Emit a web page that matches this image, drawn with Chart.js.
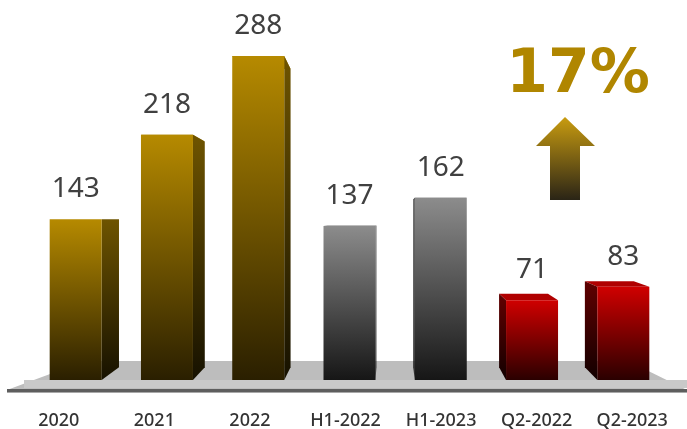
<!DOCTYPE html>
<html>
<head>
<meta charset="utf-8">
<script src="https://cdn.jsdelivr.net/npm/chart.js@4/dist/chart.umd.min.js"></script>
<style>
  html, body { margin: 0; padding: 0; background: #ffffff; overflow: hidden; }
  #wrap { width: 687px; height: 429px; position: absolute; left: 0; top: 0; }
  #chart { display: block; }
</style>
</head>
<body>
<div id="wrap"><canvas id="chart"></canvas></div>
<script>
// Revenue by period
const categories = ['2020', '2021', '2022', 'H1-2022', 'H1-2023', 'Q2-2022', 'Q2-2023'];
const values = [143, 218, 288, 137, 162, 71, 83];
const groups = ['year', 'year', 'year', 'half', 'half', 'quarter', 'quarter'];
const growthLabel = '17%';

// Colour ramps per group: front face (top -> bottom), side face (top -> bottom)
const palette = {
  year:    { front: ['#b68a00', '#2a1f00'], side: ['#6e5400', '#161100'], top: '#a88000' },
  half:    { front: ['#8c8c8c', '#161616'], side: ['#3a3a3a', '#0c0c0c'], top: '#7a7a7a' },
  quarter: { front: ['#d00000', '#2a0000'], side: ['#5c0000', '#120000'], top: '#b00000' }
};

// Perspective for the 3D boxes
const VX = 390, VY = 220;      // vanishing point
const DEPTH_X = 0.06, DEPTH_Y = 0.08;
const SPREAD = 0.955;           // pulls the boxes toward the vanishing point
const HALF_W = 26;

function backX(x) { return VX + (x - VX) * (1 - DEPTH_X); }
function backY(y) { return VY + (y - VY) * (1 - DEPTH_Y); }

function poly(ctx, pts, fill) {
  ctx.beginPath();
  ctx.moveTo(pts[0][0], pts[0][1]);
  for (let i = 1; i < pts.length; i++) ctx.lineTo(pts[i][0], pts[i][1]);
  ctx.closePath();
  ctx.fillStyle = fill;
  ctx.fill();
}

function vGrad(ctx, y0, y1, c0, c1) {
  const g = ctx.createLinearGradient(0, y0, 0, y1);
  g.addColorStop(0, c0);
  g.addColorStop(1, c1);
  return g;
}

const boxes3d = {
  id: 'boxes3d',
  beforeDatasetsDraw(chart) {
    const ctx = chart.ctx;
    const base = chart.scales.y.getPixelForValue(0);
    ctx.save();
    // floor slab
    poly(ctx, [[7, base + 10], [687, base + 10], [628, base - 19], [85, base - 19]], '#bdbdbd');
    ctx.fillStyle = '#c9c9c9';
    ctx.fillRect(24, base, 663, 8);
    ctx.fillStyle = '#5e5e5e';
    ctx.fillRect(7, base + 9, 680, 3);
    ctx.fillStyle = '#a8a8a8';
    ctx.fillRect(7, base + 12, 680, 1);

    const meta = chart.getDatasetMeta(0);
    meta.data.forEach((el, i) => {
      const p = palette[groups[i]];
      const cx = VX + 2 + (el.x - VX) * SPREAD;
      const xl = cx - HALF_W, xr = cx + HALF_W;
      const yt = el.y, yb = el.base;
      // top face
      poly(ctx, [[xl, yt], [xr, yt], [backX(xr), backY(yt)], [backX(xl), backY(yt)]], p.top);
      // side face
      const sx = cx < VX ? xr : xl;
      poly(ctx, [[sx, yt], [backX(sx), backY(yt)], [backX(sx), backY(yb)], [sx, yb]],
        vGrad(ctx, yt, yb, p.side[0], p.side[1]));
      // front face
      poly(ctx, [[xl, yt], [xr, yt], [xr, yb], [xl, yb]],
        vGrad(ctx, yt, yb, p.front[0], p.front[1]));
    });
    ctx.restore();
  },
  afterDatasetsDraw(chart) {
    const ctx = chart.ctx;
    const meta = chart.getDatasetMeta(0);
    ctx.save();
    // value labels over each box
    ctx.font = '28px "Noto Sans"';
    ctx.fillStyle = '#404040';
    ctx.textAlign = 'center';
    ctx.textBaseline = 'middle';
    meta.data.forEach((el, i) => {
      const cx = VX + 2 + (el.x - VX) * SPREAD;
      ctx.fillText(String(values[i]), cx, el.y - 30);
    });

    // growth callout
    ctx.font = 'bold 60px "DejaVu Sans"';
    ctx.fillStyle = '#b08600';
    ctx.textBaseline = 'alphabetic';
    ctx.fillText(growthLabel, 578, 92);

    // up arrow
    const g = vGrad(ctx, 117, 200, '#c99c10', '#2a2416');
    poly(ctx, [[565, 117], [595, 146], [580, 146], [580, 200], [550, 200], [550, 146], [536, 146]], g);
    ctx.restore();
  }
};

new Chart(document.getElementById('chart'), {
  type: 'bar',
  data: {
    labels: categories,
    datasets: [{
      data: values,
      backgroundColor: 'rgba(0,0,0,0)',
      borderWidth: 0
    }]
  },
  options: {
    responsive: true,
    maintainAspectRatio: false,
    animation: false,
    layout: { padding: { top: 20, left: 11, right: 7, bottom: 0 } },
    plugins: { legend: { display: false }, tooltip: { enabled: false } },
    scales: {
      y: { display: false, min: 0, max: 320 },
      x: {
        grid: { display: false, drawTicks: true, tickLength: 30, tickColor: 'rgba(0,0,0,0)' },
        border: { display: false },
        afterFit(scale) { scale.height = 49; },
        ticks: {
          padding: 0,
          color: '#333333',
          font: { family: '"Noto Sans"', size: 18, weight: '500' },
          maxRotation: 0,
          autoSkip: false
        }
      }
    }
  },
  plugins: [boxes3d]
});
</script>
</body>
</html>
